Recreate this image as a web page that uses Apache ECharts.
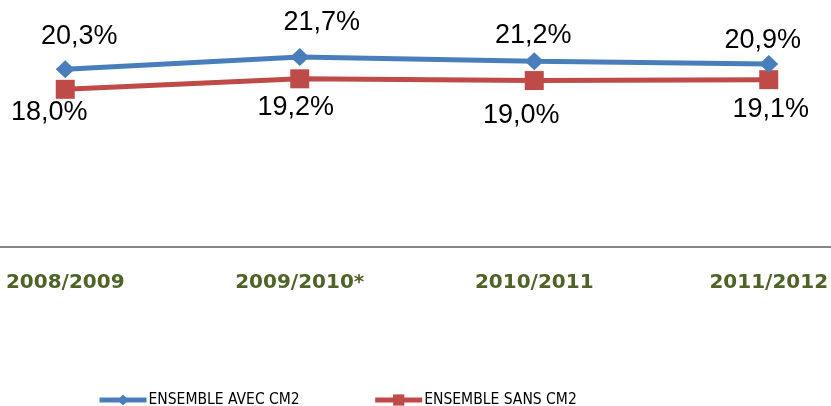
<!DOCTYPE html>
<html>
<head>
<meta charset="utf-8">
<script src="https://cdn.jsdelivr.net/npm/echarts@6/dist/echarts.min.js"></script>
<style>
  html, body { margin: 0; padding: 0; background: #fff; }
  #chart { width: 831px; height: 406px; }
</style>
</head>
<body>
<div id="chart"></div>
<script>
const categories = ['2008/2009', '2009/2010*', '2010/2011', '2011/2012'];
const avecCM2 = [20.3, 21.7, 21.2, 20.9];
const sansCM2 = [18.0, 19.2, 19.0, 19.1];
const seriesNames = ['ENSEMBLE AVEC CM2', 'ENSEMBLE SANS CM2'];

// labels were placed by hand in the original, nudge them the same way
const avecLabelOffset = [[14, -33], [22, -34], [-1, -26], [-6, -23]];
const sansLabelOffset = [[-16, 23], [-4, 29], [-13, 35], [2, 30]];

function pct(v) {
  return v.toFixed(1).replace('.', ',') + '%';
}

function withLabels(values, offsets) {
  return values.map((v, i) => ({
    value: v,
    label: { offset: offsets[i] }
  }));
}

const labelStyle = {
  show: true,
  position: 'inside',
  color: '#000',
  fontFamily: 'Liberation Sans, Arial, sans-serif',
  fontSize: 27,
  formatter: p => pct(p.value)
};

let myChart = echarts.init(document.getElementById('chart'), null, { renderer: 'canvas' });

const option = {
  animation: false,
  grid: {
    left: -52, right: -55, top: 28, bottom: 159,
    containLabel: false,
    outerBoundsMode: 'none'
  },
  legend: {
    left: 92,
    top: 387,
    itemWidth: 47,
    itemHeight: 14,
    itemGap: 73,
    lineStyle: { width: 5 },
    textStyle: {
      fontFamily: 'DejaVu Sans Condensed, Liberation Sans, sans-serif',
      fontSize: 15.5,
      color: '#000',
      padding: [0, 0, 0, -3]
    },
    data: seriesNames
  },
  xAxis: {
    type: 'category',
    data: categories,
    boundaryGap: true,
    axisLine: { lineStyle: { color: '#868686', width: 2 } },
    axisTick: { show: false },
    axisLabel: {
      margin: 26,
      color: '#4F6228',
      fontFamily: 'DejaVu Sans, sans-serif',
      fontWeight: 'bold',
      fontSize: 20
    }
  },
  yAxis: {
    type: 'value',
    min: 0,
    max: 25,
    show: false,
    splitLine: { show: false }
  },
  series: [
    {
      name: seriesNames[0],
      type: 'line',
      data: withLabels(avecCM2, avecLabelOffset),
      symbol: 'diamond',
      symbolSize: [19, 18],
      lineStyle: { color: '#4A7EBB', width: 5 },
      itemStyle: { color: '#4A7EBB' },
      label: labelStyle,
      z: 3
    },
    {
      name: seriesNames[1],
      type: 'line',
      data: withLabels(sansCM2, sansLabelOffset),
      symbol: 'rect',
      symbolSize: 19,
      lineStyle: { color: '#BE4B48', width: 5 },
      itemStyle: { color: '#BE4B48' },
      label: labelStyle,
      z: 2
    }
  ]
};

myChart.setOption(option, true);
window.addEventListener('resize', () => {
  myChart.resize();
});
</script>
</body>
</html>
